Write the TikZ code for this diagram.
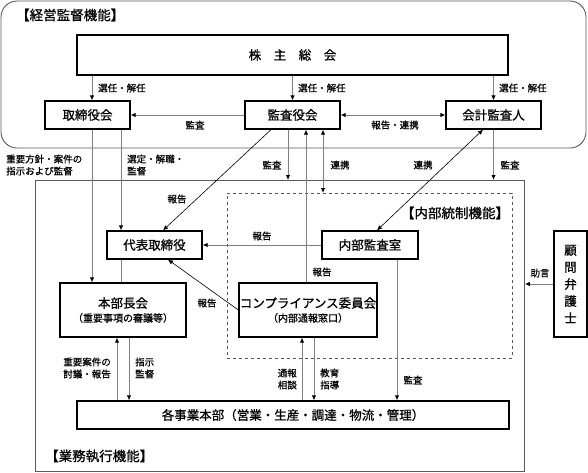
\documentclass[tikz,border=0pt]{standalone}
\usepackage{fontspec}
\setmainfont{Noto Sans CJK JP}[FakeBold=0.8]
\usetikzlibrary{arrows.meta,calc}
\tikzset{
  box/.style={draw=black, line width=1.3pt, fill=white, inner sep=0pt, align=center, font=\fontsize{12.5}{15}\selectfont},
  frame/.style={draw=black!65, line width=0.9pt},
  conn/.style={draw=black!50, line width=0.9pt},
  diag/.style={draw=black, line width=0.6pt},
  tip/.style={-{Latex[length=5pt,width=4.5pt,color=black]}},
  both/.style={{Latex[length=5pt,width=4.5pt,color=black]}-{Latex[length=5pt,width=4.5pt,color=black]}},
  lbl/.style={font=\fontsize{9.5}{12}\selectfont, inner sep=0pt, align=left},
  ttl/.style={font=\fontsize{13.5}{16}\selectfont, inner sep=0pt},
}
\begin{document}
\begin{tikzpicture}[x=1pt,y=-1pt]
\useasboundingbox (0,0) rectangle (588,472);
% frames
\draw[frame, rounded corners=16pt] (1,1) rectangle (586,148);
\node[ttl, anchor=west] (t1) at (16,15) {【経営監督機能】};
\node[frame, anchor=north west, minimum width=489pt, minimum height=291pt, inner sep=0pt] (gyomu) at (35,180) {};
\node[ttl, anchor=west] (t3) at (45,456) {【業務執行機能】};
\node[draw=black!65, dashed, line width=0.9pt, anchor=north west, minimum width=285pt, minimum height=165pt, inner sep=0pt] (naibuframe) at (227,193) {};
\node[ttl] (t2) at (455,213) {【内部統制機能】};

% boxes
\node[box, minimum width=431pt, minimum height=40pt] (kabu) at (292.5,55) {株　主　総　会};
\node[box, minimum width=85pt, minimum height=28pt] (tori) at (87.5,115) {取締役会};
\node[box, minimum width=95pt, minimum height=28pt] (kansa) at (292.5,115) {監査役会};
\node[box, minimum width=95pt, minimum height=28pt] (kaikei) at (493.5,115) {会計監査人};
\node[box, minimum width=95pt, minimum height=28pt] (daihyo) at (154.5,245) {代表取締役};
\node[box, minimum width=96pt, minimum height=28pt] (naibu) at (370,245) {内部監査室};
\node[box, minimum width=126pt, minimum height=54pt] (honbu) at (123,310) {本部長会\\[-1pt]{\fontsize{10}{12}\selectfont （重要事項の審議等）}};
\node[box, minimum width=138pt, minimum height=54pt] (compl) at (308,310) {コンプライアンス委員会\\[-1pt]{\fontsize{10}{12}\selectfont （内部通報窓口）}};
\node[box, minimum width=432pt, minimum height=28pt] (jigyo) at (293,415) {各事業本部（営業・生産・調達・物流・管理）};
\node[box, minimum width=33pt, minimum height=106pt, font=\fontsize{12.5}{17}\selectfont] (komon) at (570.5,284) {顧\\問\\弁\\護\\士};

% top connectors
\draw[conn, tip] ([xshift=4.5pt]tori.north |- kabu.south) -- ([xshift=4.5pt]tori.north);
\node[lbl, anchor=west] (l1) at (98,88) {選任・解任};
\draw[conn, tip] (kabu.south -| kansa.north) -- (kansa.north);
\node[lbl, anchor=west] (l2) at (298,88) {選任・解任};
\draw[conn, tip] (kabu.south -| kaikei.north) -- (kaikei.north);
\node[lbl, anchor=west] (l3) at (499,88) {選任・解任};
\draw[conn, tip] (kansa.west) -- (tori.east);
\node[lbl] (l4) at (195,125) {監査};
\draw[conn, both] (kansa.east) -- (kaikei.west);
\node[lbl] (l5) at (395,125) {報告・連携};

% from 取締役会
\draw[conn, tip] ([xshift=4.5pt]tori.south) -- ([xshift=4.5pt]tori.south |- honbu.north);
\draw[conn, tip] ([xshift=33.5pt]tori.south) -- ([xshift=33.5pt]tori.south |- daihyo.north);
\node[lbl, anchor=west] (l6) at (6,165) {重要方針・案件の\\指示および監督};
\node[lbl, anchor=west] (l7) at (127,165) {選定・解職・\\監督};
\draw[conn] ([xshift=-33pt]daihyo.south) -- ([xshift=-33pt]daihyo.south |- honbu.north);

% from 監査役会
\draw[diag, tip] ([xshift=-21.5pt]kansa.south) -- ([xshift=8.5pt]daihyo.north);
\node[lbl] (l8) at (177,199) {報告};
\draw[conn, tip] ([xshift=-4.5pt]kansa.south) -- ([xshift=-4.5pt]kansa.south |- gyomu.north);
\node[lbl] (l9) at (272,165) {監査};
\draw[conn, tip] ([xshift=-2pt]compl.north) -- ([xshift=-2pt]compl.north |- kansa.south);
\node[lbl] (l10) at (322,272) {報告};
\draw[conn, both] ([xshift=30.5pt]kansa.south) -- ([xshift=30.5pt]kansa.south |- naibuframe.north);
\node[lbl] (l11) at (340,165) {連携};

% from 会計監査人
\draw[diag, both] ([xshift=-10.5pt]kaikei.south) -- ([xshift=7pt]naibu.north);
\node[lbl] (l12) at (423,165) {連携};
\draw[conn, tip] (kaikei.south) -- (kaikei.south |- gyomu.north);
\node[lbl] (l13) at (510,165) {監査};

% to 代表取締役
\draw[conn, tip] (naibu.west) -- (daihyo.east);
\node[lbl] (l14) at (262,236) {報告};
\draw[diag, tip] (compl.west) -- ([xshift=13.5pt]daihyo.south);
\node[lbl] (l15) at (207,303) {報告};

% 各事業本部
\draw[conn, tip] ([xshift=-6pt]honbu.south |- jigyo.north) -- ([xshift=-6pt]honbu.south);
\draw[conn, tip] ([xshift=6pt]honbu.south) -- ([xshift=6pt]honbu.south |- jigyo.north);
\node[lbl, anchor=east, align=left] (l16) at (111,368) {重要案件の\\討議・報告};
\node[lbl, anchor=west] (l17) at (135,368) {指示\\監督};
\draw[conn, tip] ([xshift=-6pt]compl.south |- jigyo.north) -- ([xshift=-6pt]compl.south);
\draw[conn, tip] ([xshift=6pt]compl.south) -- ([xshift=6pt]compl.south |- jigyo.north);
\node[lbl, anchor=east] (l18) at (297,379) {通報\\相談};
\node[lbl, anchor=west] (l19) at (320,379) {教育\\指導};
\draw[conn, tip] ([xshift=27pt]naibu.south) -- ([xshift=27pt]naibu.south |- jigyo.north);
\node[lbl] (l20) at (413,380) {監査};

% 顧問弁護士
\draw[conn, tip] (komon.west) -- (komon.west -| gyomu.east);
\node[lbl] (l21) at (540,273) {助言};
\end{tikzpicture}
\end{document}
